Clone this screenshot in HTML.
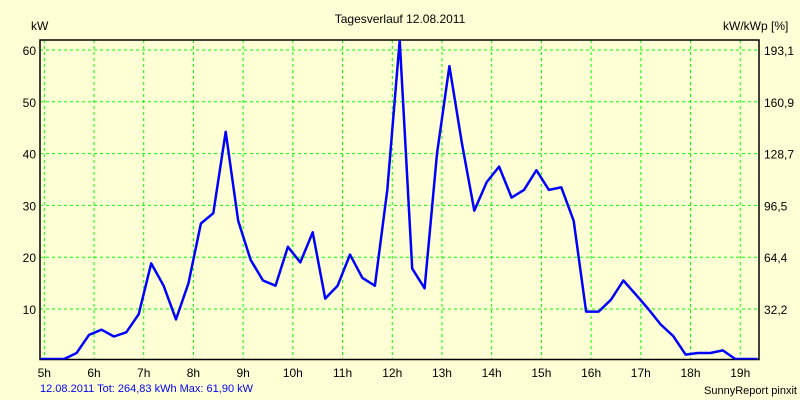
<!DOCTYPE html>
<html><head><meta charset="utf-8"><style>
body{margin:0;background:#FFFFD6;}
svg{display:block;font-family:"Liberation Sans",sans-serif;font-size:12px;}
</style></head><body>
<svg id="chart" width="800" height="400">
<rect width="800" height="400" fill="#FFFFD6"/>
<text x="400" y="23" text-anchor="middle">Tagesverlauf 12.08.2011</text>
<text x="31" y="30">kW</text>
<text x="723" y="30">kW/kWp [%]</text>
<g id="grid"></g>
<g id="axes"></g>
<g id="series"></g>
<text x="40" y="392" fill="#0000FF" font-size="11">12.08.2011 Tot: 264,83 kWh Max: 61,90 kW</text>
<text x="797" y="394" text-anchor="end" font-size="11">SunnyReport pinxit</text>
</svg>
<script>
const hourTicks=[5,6,7,8,9,10,11,12,13,14,15,16,17,18,19];
const hourLabels=["5h","6h","7h","8h","9h","10h","11h","12h","13h","14h","15h","16h","17h","18h","19h"];
const kwTicks=[10,20,30,40,50,60];
const kwLabels=["10","20","30","40","50","60"];
const pctLabels=["32,2","64,4","96,5","128,7","160,9","193,1"];
const times=[4.92,5.15,5.4,5.65,5.9,6.15,6.4,6.65,6.9,7.15,7.4,7.65,7.9,8.15,8.4,8.65,8.9,9.15,9.4,9.65,9.9,10.15,10.4,10.65,10.9,11.15,11.4,11.65,11.9,12.15,12.4,12.65,12.9,13.15,13.4,13.65,13.9,14.15,14.4,14.65,14.9,15.15,15.4,15.65,15.9,16.15,16.4,16.65,16.9,17.15,17.4,17.65,17.9,18.15,18.4,18.65,18.9,19.35];
const power=[0,0,0.3,1.5,5,6,4.7,5.5,9,18.8,14.5,8,15,26.5,28.5,44.2,27,19.5,15.5,14.5,22,19,24.8,12,14.5,20.5,16,14.5,33,61.9,17.8,14,40,56.9,42,29,34.5,37.5,31.5,33,36.8,33,33.5,27,9.5,9.5,11.8,15.5,12.8,10,7,4.8,1.2,1.5,1.5,2,0.2,0];
const L=40,R=759,T=40,B=359.5;
const xs=h=>44.3+(h-5)*49.71;
const ys=v=>360.8-v*5.18;
const NS="http://www.w3.org/2000/svg";
function mk(tag,attrs,parent){const e=document.createElementNS(NS,tag);for(const k in attrs)e.setAttribute(k,attrs[k]);parent.appendChild(e);return e;}
const grid=document.getElementById('grid'),axes=document.getElementById('axes'),series=document.getElementById('series');
hourTicks.forEach((h,i)=>{
 const l=mk('line',{x1:xs(h),x2:xs(h),y1:T,y2:B,stroke:'#00FF00','stroke-dasharray':'3,3'},grid);
 
 
 const t=mk('text',{x:xs(h),y:377,'text-anchor':'middle'},axes);
 t.textContent=hourLabels[i];
 
 
});
kwTicks.forEach((v,i)=>{
 const l=mk('line',{x1:L,x2:R,y1:ys(v),y2:ys(v),stroke:'#00FF00','stroke-dasharray':'3,3'},grid);
 
 
 const t=mk('text',{x:36,y:ys(v)+5,'text-anchor':'end'},axes);
 t.textContent=kwLabels[i];
 
 
 const t2=mk('text',{x:764,y:ys(v)+5},axes);
 t2.textContent=pctLabels[i];
 
 
});
const ax=mk('path',{d:`M${L},${T}H${R}V${B}H${L}Z`,fill:'none',stroke:'#000','stroke-width':1.5},axes);


const clip=mk('clipPath',{id:'pc'},series);mk('rect',{x:L,y:T,width:R-L,height:B-T},clip);
const pts=times.map((t,i)=>xs(t).toFixed(1)+','+Math.min(ys(power[i]),359).toFixed(1)).join(' ');
const pl=mk('polyline',{points:pts,fill:'none',stroke:'#0000FF','stroke-width':2.5,'stroke-linejoin':'round','clip-path':'url(#pc)'},series);


</script>
</body></html>
